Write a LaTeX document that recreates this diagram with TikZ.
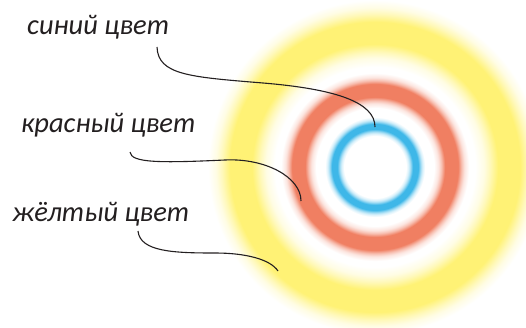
\documentclass[tikz,border=0pt]{standalone}
\usepackage{fontspec}
\setmainfont{Carlito}
\usepackage{xcolor}

\definecolor{ringblue}{RGB}{62,183,232}
\definecolor{ringred}{RGB}{240,127,98}
\definecolor{ringyellow}{RGB}{255,242,117}
\definecolor{labelgrey}{RGB}{35,31,32}
\colorlet{ringbluehalf}{ringblue!50!white}
\colorlet{ringbluequart}{ringblue!20!white}
\colorlet{ringredhalf}{ringred!50!white}
\colorlet{ringredquart}{ringred!20!white}
\colorlet{ringyellowhalf}{ringyellow!50!white}
\colorlet{ringyellowquart}{ringyellow!20!white}

% soft rings: 25bp = radius of the shaded circle
\pgfdeclareradialshading{colourrings}{\pgfpoint{0bp}{0bp}}{%
  color(0bp)=(white); color(4.559bp)=(white);
  color(4.926bp)=(ringbluequart); color(5.221bp)=(ringbluehalf);
  color(5.559bp)=(ringblue); color(6.353bp)=(ringblue);
  color(6.691bp)=(ringbluehalf); color(6.985bp)=(ringbluequart);
  color(7.353bp)=(white); color(8.676bp)=(white);
  color(9.338bp)=(ringredquart); color(9.779bp)=(ringredhalf);
  color(10.294bp)=(ringred); color(12.206bp)=(ringred);
  color(12.721bp)=(ringredhalf); color(13.162bp)=(ringredquart);
  color(13.824bp)=(white); color(14.706bp)=(white);
  color(16.029bp)=(ringyellowquart); color(16.912bp)=(ringyellowhalf);
  color(18.088bp)=(ringyellow); color(21.324bp)=(ringyellow);
  color(22.5bp)=(ringyellowhalf); color(23.382bp)=(ringyellowquart);
  color(24.559bp)=(white); color(50bp)=(white)}

\begin{document}
\begin{tikzpicture}[x=1pt,y=1pt,
  lbl/.style={anchor=base west,inner sep=0pt,text=labelgrey,
              font=\fontsize{28.5}{34}\selectfont\itshape},
  lead/.style={draw=labelgrey,line width=1.1pt}]
\useasboundingbox (0,0) rectangle (526,327);
\coordinate (c) at (375,160);
\begin{scope}
\clip (0,0) rectangle (526,327);
\shade[shading=colourrings] (c) circle[radius=170];
\end{scope}
% labels
\node[lbl] (blue) at (27,292) {синий цвет};
\node[lbl] (red) at (21,195) {красный цвет};
\node[lbl] (yellow) at (12,106) {жёлтый цвет};
% leader lines
\coordinate (blue-from) at (157,280);
\coordinate (red-from) at (130,175);
\coordinate (yellow-from) at (138,96);
\coordinate (blue-to) at (375,200);
\coordinate (red-to) at (301,126);
\coordinate (yellow-to) at (278,56);
\draw[lead] (blue-from) .. controls (158,252) and (190,250) .. (263,244)
  .. controls (335,238) and (375,225) .. (blue-to);
\draw[lead] (red-from) .. controls (131,164) and (160,164) .. (225,167)
  .. controls (265,169) and (301,150) .. (red-to);
\draw[lead] (yellow-from) .. controls (140,75) and (175,74) .. (215,74)
  .. controls (245,74) and (270,68) .. (yellow-to);
\end{tikzpicture}
\end{document}
